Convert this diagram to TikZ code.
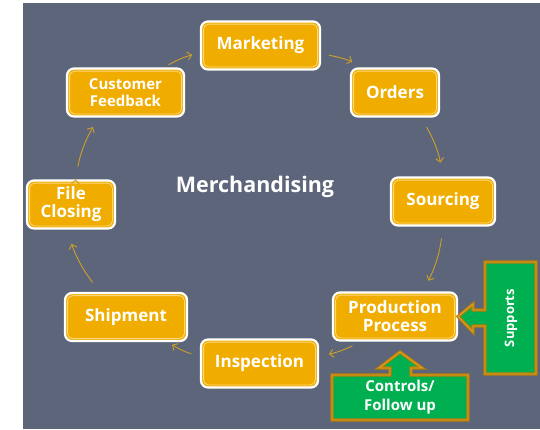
\documentclass[tikz,border=0pt]{standalone}
\usepackage{fontspec}
\setmainfont{Open Sans}
\usetikzlibrary{positioning, arrows.meta}

\definecolor{slate}{RGB}{93,101,122}
\definecolor{stagefill}{RGB}{240,173,0}
\definecolor{stageline}{RGB}{252,216,128}
\definecolor{flowcol}{RGB}{205,160,40}
\definecolor{callfill}{RGB}{0,176,80}
\definecolor{callring}{RGB}{184,126,8}
\definecolor{callinner}{RGB}{226,164,40}

\begin{document}
\begin{tikzpicture}[
        x = 1pt, y = -1pt,
        stage/.style = {rectangle, rounded corners = 7pt, fill = stagefill,
          draw = white, line width = 2.2pt, text = white, align = center,
          inner sep = 0pt, minimum height = 48pt,
          font = \bfseries\fontsize{17}{18}\selectfont,
          path picture = {\draw[stageline, line width = 0.8pt, rounded corners = 5pt]
            ([shift = {(2.6pt, 2.6pt)}]path picture bounding box.south west) rectangle
            ([shift = {(-2.6pt, -2.6pt)}]path picture bounding box.north east);}},
        callout/.style = {fill = callfill, draw = callring, double = callinner,
          line width = 1.2pt, double distance = 0.9pt, line join = miter},
        calltext/.style = {text = white, align = center, inner sep = 0pt},
        flow/.style = {draw = flowcol, line width = 0.9pt,
          -{Straight Barb[length = 4pt, width = 8pt]}}]

      \useasboundingbox[fill = white] (0, 0) rectangle (540, 429);
      \fill[slate] (23, 3) rectangle (540, 429);

      %title
      \node[text = white, font = \bfseries\fontsize{21.5}{24}\selectfont] (title)
        at (255, 187) {Merchandising};

      %stages, clockwise from the top
      \node[stage, minimum width = 119pt] (mkt) at (260.5, 45.5) {Marketing};
      \node[stage, minimum width = 88pt] (orders) at (395, 92.5) {Orders};
      \node[stage, minimum width = 104pt] (sourcing) at (443, 201.5) {Sourcing};
      \node[stage, minimum width = 124pt] (prod) at (395, 316.5) {Production\\Process};
      \node[stage, minimum width = 117pt] (insp) at (259.5, 363.5) {Inspection};
      \node[stage, minimum width = 122pt] (ship) at (126, 317) {Shipment};
      \node[stage, minimum width = 88pt] (fileclose) at (71, 204.5) {File\\Closing};
      \node[stage, minimum width = 117pt, font = \bfseries\fontsize{15}{17}\selectfont]
        (custfb) at (125.5, 92.5) {Customer\\Feedback};

      %callouts
      \draw[callout] (485, 262) -- (536, 262) -- (536, 374) -- (485, 374)
        -- (485, 326) -- (473, 326) -- (473, 332) -- (prod.east)
        -- (473, 304) -- (473, 310) -- (485, 310) -- cycle;
      \draw[callout] (332, 375) -- (390, 375) -- (390, 368) -- (379, 368)
        -- (400, 352) -- (422, 368) -- (411, 368) -- (411, 375)
        -- (468, 375) -- (468, 420) -- (332, 420) -- cycle;
      \node[calltext, rotate = 90, font = \bfseries\fontsize{13}{15}\selectfont]
        (supports) at (511, 318) {Supports};
      \node[calltext, font = \bfseries\fontsize{15}{19}\selectfont]
        (controls) at (400, 397.5) {Controls/\\Follow up};

      %cycle arrows
      \path[flow]
        (custfb.33) edge[bend left = 8, shorten <= 5pt, shorten >= 8pt] (mkt.187)
        (mkt.352) edge[bend left = 8, shorten <= 8pt, shorten >= 13pt] (orders.141)
        (orders.-44) edge[bend left = 10, shorten <= 11pt, shorten >= 14pt] (sourcing.north)
        (sourcing.south) edge[bend left = 10, shorten <= 12pt, shorten >= 12pt] (prod.42)
        (prod.216) edge[bend left = 8, shorten <= 9pt, shorten >= 10pt] (insp.7)
        (insp.173) edge[bend left = 8, shorten <= 9pt, shorten >= 5pt] (ship.-31)
        (ship.136) edge[bend left = 10, shorten <= 12pt, shorten >= 15pt] (fileclose.261)
        (fileclose.80) edge[bend left = 10, shorten <= 13pt, shorten >= 11pt] (custfb.223)
        ;
    \end{tikzpicture}
\end{document}
